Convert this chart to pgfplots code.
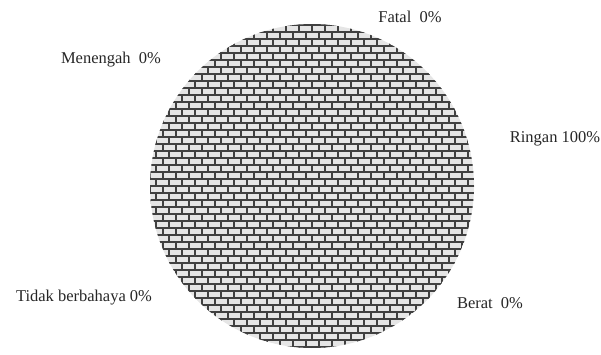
\documentclass[border=0pt]{standalone}
\usepackage{fontspec}
\setmainfont{Liberation Serif}
\usepackage{pgfplots}
\pgfplotsset{compat=1.18}
\usetikzlibrary{patterns}

% brick wall tile: 13 x 14 units, two courses of 7
\pgfdeclarepatternformonly{brickwall}{\pgfpoint{-1pt}{-1pt}}{\pgfpoint{14pt}{15pt}}{\pgfpoint{13pt}{14pt}}{
  \pgfsetlinewidth{2pt}
  \pgfpathmoveto{\pgfpoint{-1pt}{0pt}}\pgfpathlineto{\pgfpoint{14pt}{0pt}}
  \pgfpathmoveto{\pgfpoint{-1pt}{7pt}}\pgfpathlineto{\pgfpoint{14pt}{7pt}}
  \pgfpathmoveto{\pgfpoint{0pt}{0pt}}\pgfpathlineto{\pgfpoint{0pt}{7pt}}
  \pgfpathmoveto{\pgfpoint{6.5pt}{7pt}}\pgfpathlineto{\pgfpoint{6.5pt}{14pt}}
  \pgfusepath{stroke}
}

% shares in percent
\def\shareRingan{100}
\def\shareBerat{0}
\def\shareTidak{0}
\def\shareMenengah{0}
\def\shareFatal{0}

\begin{document}
\begin{tikzpicture}
\begin{axis}[
  width=601pt, height=354pt, scale only axis,
  xmin=0, xmax=601, ymin=0, ymax=354,
  hide axis, clip=false,
]
% Ringan slice (the only non-empty one), centre (312,168), radius 162
\pgfmathsetmacro{\endang}{90-3.6*\shareRingan}
\addplot[draw=none, fill=gray!20, postaction={pattern=brickwall, pattern color=black!75},
  domain=\endang:90, samples=181, variable=\t]
  ({312+162*cos(\t)}, {168+162*sin(\t)}) -- (axis cs:312,168) -- cycle;

\tikzset{lbl/.style={font=\fontsize{16.5}{18}\selectfont, text=black!85, inner sep=0pt}}
\node[lbl] at (axis cs:410,337) {Fatal\ \ \shareFatal\%};
\node[lbl] at (axis cs:111,294) {Menengah\ \ \shareMenengah\%};
\node[lbl] at (axis cs:555,215) {Ringan \shareRingan\%};
\node[lbl] at (axis cs:490,51) {Berat\ \ \shareBerat\%};
\node[lbl] at (axis cs:84,56) {Tidak berbahaya \shareTidak\%};
\coordinate (ll) at (axis cs:0,0);
\coordinate (ur) at (axis cs:601,354);
\end{axis}
\pgfresetboundingbox
\path (ll) rectangle (ur);
\end{tikzpicture}
\end{document}
